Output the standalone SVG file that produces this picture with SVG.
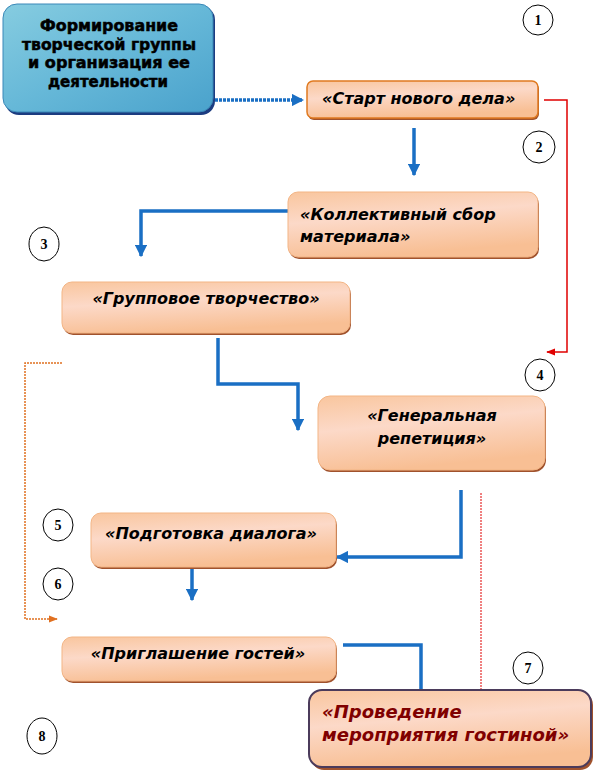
<svg xmlns="http://www.w3.org/2000/svg" width="596" height="774" viewBox="0 0 596 774">
<defs>
<linearGradient id="gBlue" x1="0" y1="0" x2="1" y2="1">
<stop offset="0" stop-color="#86cce0"/>
<stop offset="0.5" stop-color="#66b8d8"/>
<stop offset="1" stop-color="#4aa2cc"/>
</linearGradient>
<linearGradient id="gPeach" x1="0" y1="0" x2="0.3" y2="1">
<stop offset="0" stop-color="#f9c69e"/>
<stop offset="0.45" stop-color="#fcd9c8"/>
<stop offset="1" stop-color="#f8bf94"/>
</linearGradient>
<marker id="aBlue" viewBox="0 0 10 10" refX="9" refY="5" markerWidth="3.5" markerHeight="3.5" orient="auto">
<path d="M0,0 L10,5 L0,10 z" fill="#1a6fc4"/>
</marker>
<marker id="aRed" viewBox="0 0 10 10" refX="9" refY="5" markerWidth="6" markerHeight="6" orient="auto">
<path d="M0,1 L10,5 L0,9 z" fill="#e00000"/>
</marker>
<marker id="aOrange" viewBox="0 0 10 10" refX="9" refY="5" markerWidth="6" markerHeight="6" orient="auto">
<path d="M0,1 L10,5 L0,9 z" fill="#e07020"/>
</marker>
</defs>
<style>
.box{fill:url(#gPeach);stroke:#f3b585;stroke-width:1}
.sh{fill:#a0522d}
.t{font-family:"DejaVu Sans",sans-serif;font-weight:bold;font-style:oblique;font-size:16px;fill:#000}
.tb{font-family:"DejaVu Sans",sans-serif;font-weight:bold;font-size:15px;fill:#000;stroke:#000;stroke-width:0.5}
.t8{font-family:"DejaVu Sans",sans-serif;font-weight:bold;font-style:oblique;font-size:18px;fill:#800000}
.num{font-family:"Liberation Serif",serif;font-weight:bold;font-size:14px;fill:#000}
.circ{fill:#fff;stroke:#000;stroke-width:1}
.blue{fill:none;stroke:#1a6fc4;stroke-width:3.5}
</style>

<g id="connectors">
<path class="blue" d="M215,100 H303" stroke-dasharray="3,1" marker-end="url(#aBlue)"/>
<path class="blue" d="M414,128 V175" marker-end="url(#aBlue)"/>
<path class="blue" d="M288,211 H141 V256" marker-end="url(#aBlue)"/>
<path class="blue" d="M218,338 V384 H298 V430" marker-end="url(#aBlue)"/>
<path class="blue" d="M461,490 V557 H337" marker-end="url(#aBlue)"/>
<path class="blue" d="M192,547 V600" marker-end="url(#aBlue)"/>
<path class="blue" d="M343,645 H421 V690"/>
<path d="M544,100 H567 V352 H547" fill="none" stroke="#e00000" stroke-width="1.5" marker-end="url(#aRed)"/>
<path d="M481,493 V690" fill="none" stroke="#e00000" stroke-width="1" stroke-dasharray="2,1"/>
<path d="M62,363 H25 V619 H57" fill="none" stroke="#e07020" stroke-width="1.5" stroke-dasharray="2,1" marker-end="url(#aOrange)"/>
</g>

<g id="n1">
<rect x="5" y="6" width="210" height="109" rx="14" fill="#1c3c80"/>
<rect x="3" y="4" width="210" height="108" rx="14" fill="url(#gBlue)" stroke="#3b88b8" stroke-width="1"/>
<text class="tb" text-anchor="middle" x="109" y="31" textLength="138" lengthAdjust="spacingAndGlyphs">Формирование</text>
<text class="tb" text-anchor="middle" x="109" y="50" textLength="174" lengthAdjust="spacingAndGlyphs">творческой группы</text>
<text class="tb" text-anchor="middle" x="109" y="68" textLength="162" lengthAdjust="spacingAndGlyphs">и организация ее</text>
<text class="tb" text-anchor="middle" x="108" y="87" textLength="120" lengthAdjust="spacingAndGlyphs">деятельности</text>
</g>

<g id="n2">
<rect x="308" y="83" width="231" height="37" rx="6" class="sh"/>
<rect x="307" y="81" width="231" height="37" rx="6" fill="url(#gPeach)" stroke="#e07a20" stroke-width="1.5"/>
<text class="t" x="322" y="104">«Старт нового дела»</text>
</g>

<g id="n3">
<rect x="289" y="194" width="250" height="65" rx="10" class="sh"/>
<rect x="288" y="192" width="250" height="65" rx="10" class="box"/>
<text class="t" x="300" y="220">«Коллективный сбор</text>
<text class="t" x="300" y="242">материала»</text>
</g>

<g id="n4">
<rect x="63" y="284" width="288" height="51" rx="10" class="sh"/>
<rect x="62" y="282" width="288" height="51" rx="10" class="box"/>
<text class="t" x="206" y="304" text-anchor="middle">«Групповое творчество»</text>
</g>

<g id="n5">
<rect x="319" y="398" width="227" height="74" rx="12" class="sh"/>
<rect x="318" y="396" width="227" height="74" rx="12" class="box"/>
<text class="t" x="432" y="421" text-anchor="middle">«Генеральная</text>
<text class="t" x="432" y="444" text-anchor="middle">репетиция»</text>
</g>

<g id="n6">
<rect x="92" y="515" width="245" height="54" rx="10" class="sh"/>
<rect x="91" y="513" width="245" height="54" rx="10" class="box"/>
<text class="t" x="211" y="539" text-anchor="middle">«Подготовка диалога»</text>
</g>

<g id="n7">
<rect x="63" y="639" width="274" height="44" rx="10" class="sh"/>
<rect x="62" y="637" width="274" height="44" rx="10" class="box"/>
<text class="t" x="198" y="659" text-anchor="middle">«Приглашение гостей»</text>
</g>

<g id="n8">
<rect x="311" y="692" width="282" height="78" rx="13" class="sh"/>
<rect x="309" y="690" width="282" height="77" rx="13" fill="url(#gPeach)" stroke="#4b3b5b" stroke-width="2"/>
<text class="t8" x="322" y="718">«Проведение</text>
<text class="t8" x="322" y="741">мероприятия гостиной»</text>
</g>

<g id="c1"><ellipse class="circ" cx="538" cy="20" rx="15" ry="15"/><text class="num" x="538" y="25" text-anchor="middle">1</text></g>
<g id="c2"><ellipse class="circ" cx="539" cy="147" rx="16" ry="16"/><text class="num" x="539" y="152" text-anchor="middle">2</text></g>
<g id="c3"><ellipse class="circ" cx="44" cy="244" rx="15" ry="17"/><text class="num" x="44" y="249" text-anchor="middle">3</text></g>
<g id="c4"><ellipse class="circ" cx="540" cy="375" rx="15" ry="16"/><text class="num" x="540" y="380" text-anchor="middle">4</text></g>
<g id="c5"><ellipse class="circ" cx="58" cy="525" rx="15" ry="16"/><text class="num" x="58" y="530" text-anchor="middle">5</text></g>
<g id="c6"><ellipse class="circ" cx="58" cy="584" rx="15" ry="16"/><text class="num" x="58" y="589" text-anchor="middle">6</text></g>
<g id="c7"><ellipse class="circ" cx="528" cy="668" rx="15" ry="16"/><text class="num" x="528" y="673" text-anchor="middle">7</text></g>
<g id="c8"><ellipse class="circ" cx="42" cy="736" rx="15" ry="18"/><text class="num" x="42" y="741" text-anchor="middle">8</text></g>
</svg>
